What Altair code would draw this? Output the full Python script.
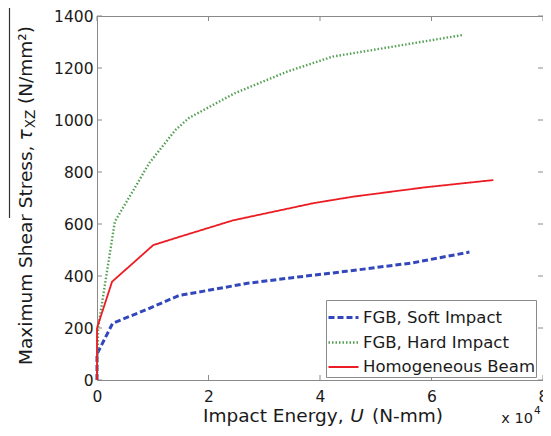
import altair as alt
import pandas as pd

# ---- data (x in units of 10^4 N-mm) ----
series_names = ["FGB, Soft Impact", "FGB, Hard Impact", "Homogeneous Beam"]
series_colors = ["#3347bd", "#54a054", "#ec1c24"]

soft_x = [0, 0, 0.28, 0.9, 1.47, 2.0, 2.7, 3.6, 4.47, 5.65, 6.68]
soft_y = [0, 100, 218, 272, 325, 345, 372, 396, 418, 450, 492]

hard_x = [0, 0.02, 0.32, 0.94, 1.4, 1.65, 2.47, 3.41, 4.23, 5.47, 6.56]
hard_y = [0, 200, 609, 835, 960, 1008, 1103, 1186, 1244, 1288, 1327]

hom_x = [0, 0, 0.27, 1.01, 1.5, 2.44, 3.88, 4.59, 5.88, 7.11]
hom_y = [0, 200, 378, 519, 552, 614, 680, 705, 741, 769]

x_ticks = [0, 2, 4, 6, 8]
y_ticks = [0, 200, 400, 600, 800, 1000, 1200, 1400]

rows = []
for name, xs, ys in zip(series_names, [soft_x, hard_x, hom_x], [soft_y, hard_y, hom_y]):
    for i, (xv, yv) in enumerate(zip(xs, ys)):
        rows.append({"series": name, "x": xv, "y": yv, "order": i})
df = pd.DataFrame(rows)

W, H = 446, 364
OX, OY = 97, 16  # page position of plot origin
FONT = "DejaVu Sans"
TXT = "#1a1a1a"
GRAY = "#8a8a8a"

xscale = alt.Scale(domain=[0, 8], nice=False, zero=False)
yscale = alt.Scale(domain=[0, 1400], nice=False, zero=False)
xaxis = alt.Axis(values=x_ticks, format="d", ticks=False, domain=False, grid=False,
                 labelFont=FONT, labelFontSize=15.5, labelColor=TXT, labelPadding=9,
                 title=None, labelFlush=False, labelOverlap=False)
yaxis = alt.Axis(values=y_ticks, format="d", ticks=False, domain=False, grid=False,
                 labelFont=FONT, labelFontSize=15.5, labelColor=TXT, labelPadding=4,
                 title=None, labelFlush=False, labelOverlap=False)

leg = alt.Legend(orient="none", legendX=229, legendY=284, title=None,
                 symbolType="stroke", symbolSize=900, labelFont=FONT, labelFontSize=16.5,
                 labelColor=TXT, strokeColor=GRAY, fillColor="white", padding=1,
                 rowPadding=0, labelOffset=3, labelLimit=400)

lines = alt.Chart(df).mark_line().encode(
    x=alt.X("x:Q", scale=xscale, axis=xaxis),
    y=alt.Y("y:Q", scale=yscale, axis=yaxis),
    color=alt.Color("series:N", scale=alt.Scale(domain=series_names, range=series_colors),
                    sort=series_names, legend=leg),
    strokeDash=alt.StrokeDash("series:N", scale=alt.Scale(domain=series_names,
                              range=[[6, 3], [1.5, 2], [1, 0]]), sort=series_names, legend=leg),
    strokeWidth=alt.StrokeWidth("series:N", scale=alt.Scale(domain=series_names,
                                range=[3, 1.8, 2.8]), sort=series_names, legend=leg),
    order="order:Q",
)

xt = pd.DataFrame({"t": x_ticks})
yt = pd.DataFrame({"t": y_ticks})
tick_b = alt.Chart(xt).mark_rule(color=GRAY).encode(
    x=alt.X("t:Q", scale=xscale, axis=xaxis), y=alt.value(H), y2=alt.value(H - 5))
tick_t = alt.Chart(xt).mark_rule(color=GRAY).encode(
    x=alt.X("t:Q", scale=xscale, axis=xaxis), y=alt.value(0), y2=alt.value(5))
tick_l = alt.Chart(yt).mark_rule(color=GRAY).encode(
    y=alt.Y("t:Q", scale=yscale, axis=yaxis), x=alt.value(0), x2=alt.value(5))
tick_r = alt.Chart(yt).mark_rule(color=GRAY).encode(
    y=alt.Y("t:Q", scale=yscale, axis=yaxis), x=alt.value(W), x2=alt.value(W - 5))


def label(text, px, py, size, angle=0, align="left", style="normal"):
    return alt.Chart(pd.DataFrame({"t": [text]})).mark_text(
        align=align, baseline="alphabetic", angle=angle, fontSize=size, font=FONT,
        fontStyle=style, color=TXT
    ).encode(text="t:N", x=alt.value(px - OX), y=alt.value(py - OY))


# y-axis title pieces (rotated)
ytitle = [
    label("Maximum Shear Stress,", 32, 365, 18.5, angle=270),
    label("τ", 32, 135, 18.5, angle=270, align="center", style="italic"),
    label("XZ", 35, 119, 13.5, angle=270, align="center"),
    label("(N/mm²)", 32, 104, 18.5, angle=270),
]
overline = alt.Chart(pd.DataFrame({"a": [0]})).mark_rule(color="#333333", strokeWidth=1.2).encode(
    x=alt.value(9.5 - OX), y=alt.value(5 - OY), y2=alt.value(218 - OY))

# x-axis title pieces
xtitle = [
    label("Impact Energy,", 203, 422, 18.5),
    label("U", 357, 422, 18.5, align="center", style="italic"),
    label("(N-mm)", 443, 422, 18.5, align="right"),
    label("x 10", 533, 423, 14.5, align="right"),
    label("4", 534, 414, 10.5),
]

chart = alt.layer(
    tick_b, tick_t, tick_l, tick_r, lines, overline, *ytitle, *xtitle
).properties(
    width=W, height=H,
    padding={"left": OX - 8, "top": OY - 8, "right": 0, "bottom": 52},
    autosize=alt.AutoSizeParams(type="none"),
    background="white",
).configure_view(stroke=GRAY, strokeWidth=1)

chart.save("out.html", embed_options={"renderer": "svg", "actions": False})
